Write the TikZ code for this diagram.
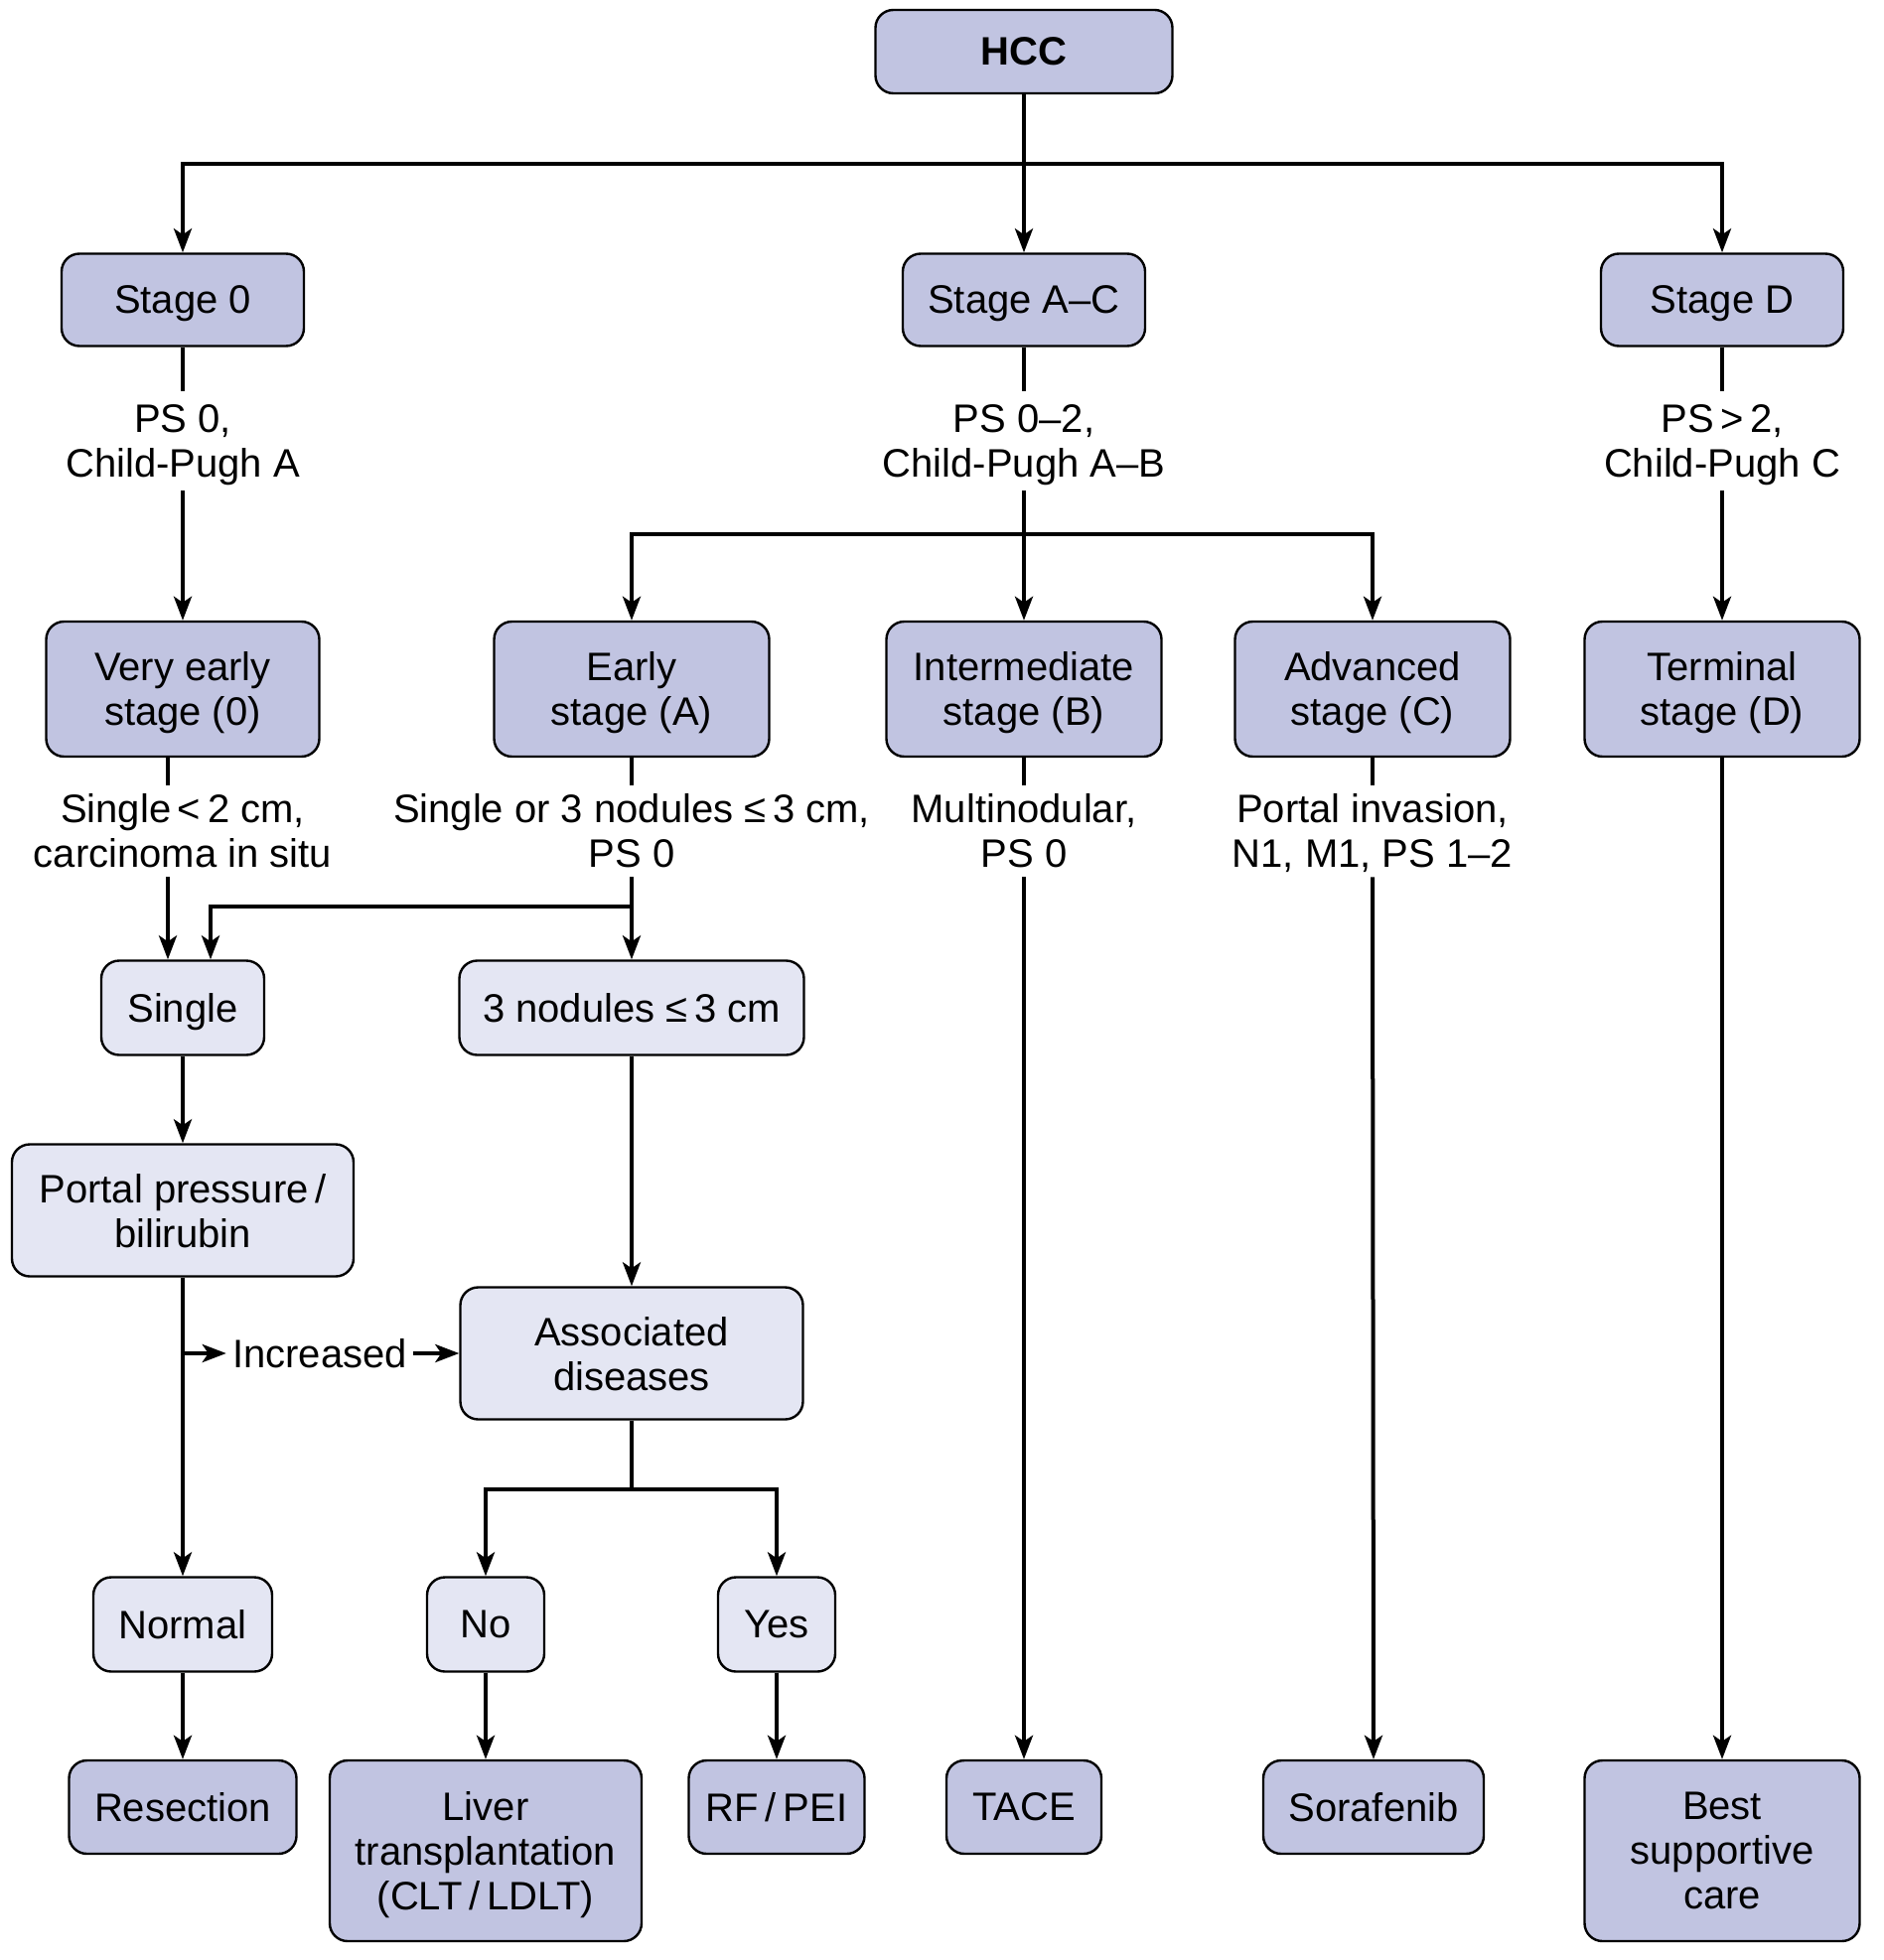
\documentclass[tikz,border=0pt]{standalone}
\usepackage{fontspec}
\setmainfont{Liberation Sans}
\usetikzlibrary{arrows.meta}
\definecolor{darkfill}{RGB}{193,196,225}
\definecolor{lightfill}{RGB}{228,230,243}
\begin{document}
\begin{tikzpicture}[x=0.5pt,y=-0.5pt,
  txt/.style={font=\fontsize{20pt}{22.5pt}\selectfont, text depth=0pt},
  box/.style={txt, draw=black, line width=1.2pt, rounded corners=9pt, align=center, inner sep=2pt},
  dbox/.style={box, fill=darkfill},
  lbox/.style={box, fill=lightfill},
  lbl/.style={txt, align=center, inner sep=0pt},
  conn/.style={line width=2pt},
  arr/.style={conn, -{Stealth[length=12pt,width=9pt,inset=3pt]}},
]
\useasboundingbox (0,0) rectangle (1896,1974);
\fill[white] (0,0) rectangle (1896,1974);

% top
\node[dbox, minimum width=149.5pt, minimum height=42pt, font=\fontsize{20pt}{22.5pt}\selectfont\bfseries] (hcc) at (1031,52) {HCC};
\node[dbox, minimum width=122pt, minimum height=46.5pt] (s0) at (184,302) {Stage 0};
\node[dbox, minimum width=122pt, minimum height=46.5pt] (sac) at (1031,302) {Stage A--C};
\node[dbox, minimum width=122pt, minimum height=46.5pt] (sd) at (1734,302) {Stage D};

\node[lbl, minimum height=50pt] (l0) at (184,444) {PS 0,\\Child-Pugh A};
\node[lbl, minimum height=50pt] (lac) at (1031,444) {PS 0--2,\\Child-Pugh A--B};
\node[lbl, minimum height=50pt] (ld) at (1734,444) {PS\,>\,2,\\Child-Pugh C};

% level 3
\node[dbox, minimum width=137.5pt, minimum height=68pt] (ve) at (184,694) {Very early\\stage (0)};
\node[dbox, minimum width=138.5pt, minimum height=68pt] (ea) at (636,694) {Early\\stage (A)};
\node[dbox, minimum width=138.5pt, minimum height=68pt] (im) at (1031,694) {Intermediate\\stage (B)};
\node[dbox, minimum width=138.5pt, minimum height=68pt] (ad) at (1382,694) {Advanced\\stage (C)};
\node[dbox, minimum width=138.5pt, minimum height=68pt] (te) at (1734,694) {Terminal\\stage (D)};

\node[lbl, minimum height=46pt] (lve) at (184,837) {Single\,<\,2 cm,\\carcinoma in situ};
\node[lbl, minimum height=46pt] (lea) at (636,837) {Single or 3 nodules ≤\,3 cm,\\PS 0};
\node[lbl, minimum height=46pt] (lim) at (1031,837) {Multinodular,\\PS 0};
\node[lbl, minimum height=46pt] (lad) at (1382,837) {Portal invasion,\\N1, M1, PS 1--2};

% level 4
\node[lbox, minimum width=82pt, minimum height=47.5pt] (sgl) at (184,1015) {Single};
\node[lbox, minimum width=173.5pt, minimum height=47.5pt] (nod) at (636,1015) {3 nodules ≤\,3 cm};
\node[lbox, minimum width=172pt, minimum height=66.5pt] (pp) at (184,1219) {Portal pressure\,/\\bilirubin};
\node[lbox, minimum width=172.5pt, minimum height=66.5pt] (as) at (636,1363) {Associated\\diseases};
\node[lbl, inner sep=3pt] (inc) at (322,1363) {Increased};
\node[lbox, minimum width=90pt, minimum height=47.5pt] (nor) at (184,1636) {Normal};
\node[lbox, minimum width=59pt, minimum height=47.5pt] (no) at (489,1636) {No};
\node[lbox, minimum width=59pt, minimum height=47.5pt] (yes) at (782,1636) {Yes};

% bottom
\node[dbox, minimum width=114.5pt, minimum height=47pt] (res) at (184,1820) {Resection};
\node[dbox, minimum width=157pt, minimum height=91pt] (lt) at (489,1864) {Liver\\transplantation\\(CLT\,/\,LDLT)};
\node[dbox, minimum width=88.5pt, minimum height=47pt] (rf) at (782,1820) {RF\,/\,PEI};
\node[dbox, minimum width=78pt, minimum height=47pt] (tace) at (1031,1820) {TACE};
\node[dbox, minimum width=111pt, minimum height=47pt] (sor) at (1383,1820) {Sorafenib};
\node[dbox, minimum width=138.5pt, minimum height=91pt] (bsc) at (1734,1864) {Best\\supportive\\care};

% junctions
\coordinate (j1) at (1031,165);
\coordinate (j2) at (1031,538);
\coordinate (j3) at (636,913);
\coordinate (j4) at (184,1363);
\coordinate (j5) at (636,1500);

% connectors
\draw[arr] (hcc.south) -- (sac.north);
\draw[arr] (j1) -| (s0.north);
\draw[arr] (j1) -| (sd.north);

\draw[conn] (s0.south) -- (l0.north);
\draw[arr] (l0.south) -- (ve.north);
\draw[conn] (sac.south) -- (lac.north);
\draw[arr] (lac.south) -- (im.north);
\draw[arr] (j2) -| (ea.north);
\draw[arr] (j2) -| (ad.north);
\draw[conn] (sd.south) -- (ld.north);
\draw[arr] (ld.south) -- (te.north);

\draw[conn] ([xshift=-7.5pt]ve.south) -- ([xshift=-7.5pt]lve.north);
\draw[arr] ([xshift=-7.5pt]lve.south) -- ([xshift=-7.5pt]sgl.north);
\draw[conn] (ea.south) -- (lea.north);
\draw[arr] (lea.south) -- (nod.north);
\draw[arr] (j3) -| ([xshift=14pt]sgl.north);
\draw[conn] (im.south) -- (lim.north);
\draw[arr] (lim.south) -- (tace.north);
\draw[conn] (ad.south) -- (lad.north);
\draw[arr] (lad.south) -- (sor.north);
\draw[arr] (te.south) -- (bsc.north);

\draw[arr] (sgl.south) -- (pp.north);
\draw[arr] (pp.south) -- (nor.north);
\draw[arr] (j4) -- (inc.west);
\draw[arr] (inc.east) -- (as.west);
\draw[arr] (nod.south) -- (as.north);
\draw[conn] (as.south) -- (j5);
\draw[arr] (j5) -| (no.north);
\draw[arr] (j5) -| (yes.north);

\draw[arr] (nor.south) -- (res.north);
\draw[arr] (no.south) -- (lt.north);
\draw[arr] (yes.south) -- (rf.north);
\end{tikzpicture}
\end{document}
